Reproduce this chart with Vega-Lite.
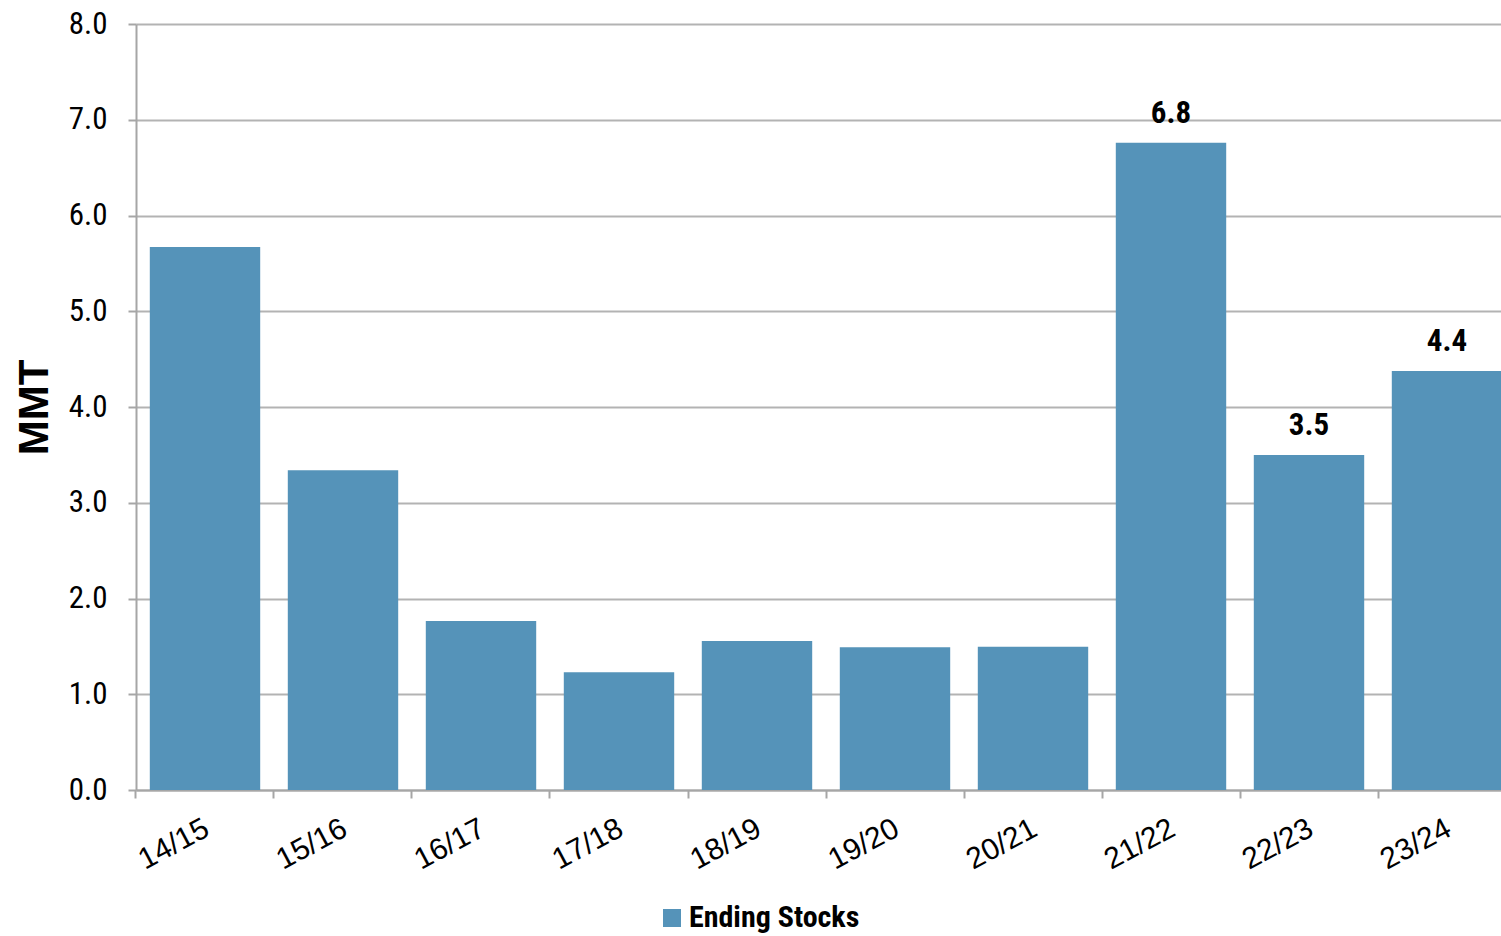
{
  "$schema": "https://vega.github.io/schema/vega-lite/v6.json",
  "autosize": {"type": "none"},
  "width": 1365,
  "height": 766,
  "padding": {"left": 136, "top": 24, "right": 0, "bottom": 146},
  "background": "white",
  "data": {
    "values": [
      {"season": "14/15", "value": 5.67, "series": "Ending Stocks"},
      {"season": "15/16", "value": 3.34, "series": "Ending Stocks"},
      {"season": "16/17", "value": 1.765, "series": "Ending Stocks"},
      {"season": "17/18", "value": 1.23, "series": "Ending Stocks"},
      {"season": "18/19", "value": 1.555, "series": "Ending Stocks"},
      {"season": "19/20", "value": 1.49, "series": "Ending Stocks"},
      {"season": "20/21", "value": 1.495, "series": "Ending Stocks"},
      {"season": "21/22", "value": 6.76, "series": "Ending Stocks"},
      {"season": "22/23", "value": 3.5, "series": "Ending Stocks"},
      {"season": "23/24", "value": 4.375, "series": "Ending Stocks"}
    ]
  },
  "config": {
    "view": {"stroke": null},
    "axis": {"labelColor": "#000000", "titleColor": "#000000"}
  },
  "encoding": {
    "x": {
      "field": "season",
      "type": "nominal",
      "sort": null,
      "scale": {"range": [0, 1380], "paddingInner": 0.2, "paddingOuter": 0.1},
      "axis": {
        "title": null,
        "bandPosition": -0.125,
        "labelOffset": -5,
        "labelAngle": -28,
        "labelAlign": "right",
        "labelBaseline": "top",
        "labelFont": "Liberation Sans",
        "labelFontSize": 30,
        "labelPadding": 15,
        "tickSize": 8,
        "tickWidth": 2,
        "tickColor": "#a6a6a6",
        "domainColor": "#a6a6a6",
        "domainWidth": 2,
        "grid": false
      }
    },
    "y": {
      "field": "value",
      "type": "quantitative",
      "scale": {"domain": [0, 8], "nice": false},
      "axis": {
        "title": "MMT",
        "values": [0, 1, 2, 3, 4, 5, 6, 7, 8],
        "format": ".1f",
        "labelFont": "Roboto Condensed, Liberation Sans Narrow, DejaVu Sans Condensed, sans-serif",
        "labelFontSize": 31,
        "labelPadding": 21,
        "tickSize": 8,
        "tickWidth": 2,
        "tickColor": "#a6a6a6",
        "domainColor": "#a6a6a6",
        "domainWidth": 2,
        "grid": true,
        "gridColor": "#b3b3b3",
        "gridWidth": 2,
        "titleFont": "Liberation Sans",
        "titleFontSize": 42,
        "titleFontWeight": "bold",
        "titlePadding": 12
      }
    }
  },
  "layer": [
    {
      "mark": {"type": "bar"},
      "encoding": {
        "color": {
          "field": "series",
          "type": "nominal",
          "scale": {"range": ["#5593b9"]},
          "legend": {
            "title": null,
            "orient": "none",
            "legendX": 521,
            "legendY": 879,
            "symbolType": "square",
            "symbolSize": 324,
            "symbolStrokeWidth": 0,
            "labelFont": "Roboto Condensed, Liberation Sans Narrow, DejaVu Sans Condensed, sans-serif",
            "labelFontSize": 30,
            "labelFontWeight": "bold",
            "labelColor": "#000000",
            "labelOffset": 2,
            "labelLimit": 0
          }
        }
      }
    },
    {
      "transform": [{"filter": {"field": "season", "oneOf": ["21/22", "22/23", "23/24"]}}],
      "mark": {
        "type": "text",
        "baseline": "alphabetic",
        "dy": -20,
        "font": "Roboto Condensed, Liberation Sans Narrow, DejaVu Sans Condensed, sans-serif",
        "fontSize": 31,
        "fontWeight": "bold",
        "color": "#000000"
      },
      "encoding": {
        "text": {"field": "value", "type": "quantitative", "format": ".1f"}
      }
    }
  ]
}
